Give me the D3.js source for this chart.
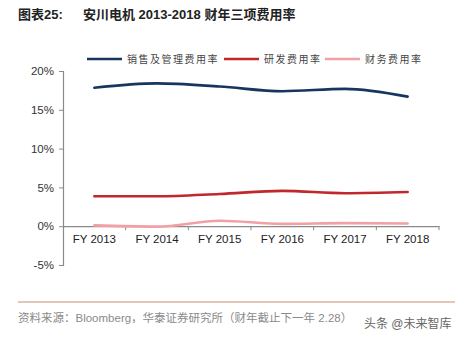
<!DOCTYPE html>
<html><head><meta charset="utf-8">
<script src="https://cdn.jsdelivr.net/npm/d3@7"></script>
<style>
body{margin:0;background:#fff;}
svg{display:block;font-family:Arial,"Liberation Sans",sans-serif;}
</style></head>
<body>
<svg id="c" width="464" height="340"></svg>
<script>
const categories = ["FY 2013","FY 2014","FY 2015","FY 2016","FY 2017","FY 2018"];
const seriesNames = ["销售及管理费用率","研发费用率","财务费用率"];
const sgaRate = [17.85, 18.4, 18.0, 17.4, 17.7, 16.7];
const rdRate = [3.85, 3.85, 4.15, 4.55, 4.25, 4.4];
const finRate = [0.1, -0.05, 0.7, 0.3, 0.4, 0.35];
const yTicks = [-5, 0, 5, 10, 15, 20];
const colors = ["#17365d", "#c0282b", "#f2a0a3"];
const series = [sgaRate, rdRate, finRate];

const svg = d3.select("#c");
const mLeft = 63, mRight = 439, mTop = 71, mBottom = 265;
const mixFont = "'Liberation Sans','Noto Sans CJK SC',sans-serif";

const x = d3.scaleBand().domain(categories).range([mLeft, mRight]);
const y = d3.scaleLinear().domain([-5, 20]).range([mBottom, mTop]);

// title
const t = svg.append("text").attr("x", 18).attr("y", 19).attr("font-size", 13).attr("font-weight", "bold").attr("fill", "#222")
  .attr("font-family", mixFont);
t.append("tspan").text("图表25:");
t.append("tspan").attr("x", 83).text("安川电机 2013-2018 财年三项费用率");

// y axis
const yAxis = d3.axisLeft(y).tickValues(yTicks).tickSize(4).tickPadding(5).tickFormat(d => d + "%");
const gy = svg.append("g").attr("transform", `translate(${mLeft},0)`).call(yAxis);
gy.select(".domain").attr("stroke", "#8a8a8a").attr("stroke-width", 1.2);
gy.selectAll(".tick line").attr("stroke", "#8a8a8a");
gy.selectAll(".tick text").attr("font-size", 11.5).attr("fill", "#333");

// x axis at zero
const xAxis = d3.axisBottom(x).tickSize(0).tickPadding(9);
const gx = svg.append("g").attr("transform", `translate(0,${y(0)})`).call(xAxis);
gx.select(".domain").attr("stroke", "#8a8a8a").attr("stroke-width", 1.2);
gx.selectAll(".tick text").attr("font-size", 11.5).attr("fill", "#222");
gx.selectAll(".btick").data(categories).enter().append("line")
  .attr("x1", d => x(d) + x.bandwidth()).attr("x2", d => x(d) + x.bandwidth())
  .attr("y1", 0).attr("y2", 4).attr("stroke", "#8a8a8a");

// lines
const line = d3.line().x((d, i) => x(categories[i]) + x.bandwidth() / 2).y(d => y(d)).curve(d3.curveMonotoneX);
series.forEach((s, k) => {
  svg.append("path").datum(s).attr("d", line).attr("fill", "none")
    .attr("stroke", colors[k]).attr("stroke-width", 2.6).attr("stroke-linejoin", "round").attr("stroke-linecap", "round");
});

// legend
const legX = [87, 224, 325];
seriesNames.forEach((n, k) => {
  svg.append("line").attr("x1", legX[k]).attr("x2", legX[k] + 35).attr("y1", 59).attr("y2", 59)
    .attr("stroke", colors[k]).attr("stroke-width", 2.6);
  svg.append("text").attr("x", legX[k] + 40).attr("y", 63).attr("font-size", 10).attr("letter-spacing", 1.5)
    .attr("fill", "#444").attr("font-family", "'Noto Sans CJK SC',sans-serif").text(n);
});

// footer
svg.append("line").attr("x1", 18).attr("x2", 455).attr("y1", 302).attr("y2", 302).attr("stroke", "#c98b73").attr("stroke-width", 1);
svg.append("text").attr("x", 18).attr("y", 322).attr("font-size", 11.5).attr("fill", "#8a8a8a")
  .attr("font-family", mixFont).text("资料来源：Bloomberg，华泰证券研究所（财年截止下一年 2.28）");
svg.append("text").attr("x", 364).attr("y", 328).attr("font-size", 12).attr("fill", "#666")
  .attr("font-family", mixFont).text("头条 @未来智库");
</script>
</body></html>
